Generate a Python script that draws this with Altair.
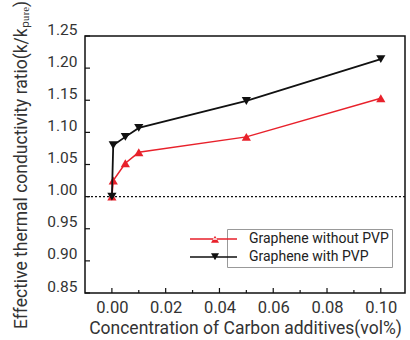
import altair as alt
import pandas as pd

# ---- data ----
concentration = [0.0, 0.0005, 0.005, 0.01, 0.05, 0.1]
without_pvp = [1.0, 1.025, 1.052, 1.069, 1.093, 1.153]
with_pvp = [1.0, 1.08, 1.093, 1.107, 1.149, 1.214]
series_names = ["Graphene without PVP", "Graphene with PVP"]
x_major = [0.0, 0.02, 0.04, 0.06, 0.08, 0.10]
x_minor = [0.01, 0.03, 0.05, 0.07, 0.09]
y_ticks = [0.85, 0.90, 0.95, 1.00, 1.05, 1.10, 1.15, 1.20, 1.25]
baseline = [1.0]

RED = "#e8212b"
BLACK = "#111111"
FONT = "Roboto"
W, H = 320, 257

rows = []
for name, vals in zip(series_names, [without_pvp, with_pvp]):
    for c, v in zip(concentration, vals):
        rows.append({"series": name, "series_label": name, "c": c, "ratio": v})
df = pd.DataFrame(rows)
df_red = df[df.series == series_names[0]]
df_blk = df[df.series == series_names[1]]

xscale = alt.Scale(domain=[-0.01, 0.109], nice=False, zero=False)
yscale = alt.Scale(domain=[0.85, 1.25], nice=False, zero=False)

x_axis = alt.Axis(values=x_major, format=".2f", ticks=False, domain=False, grid=False,
                  labelPadding=6, labelFontSize=16.5, labelColor="#333", labelFont=FONT,
                  labelFlush=False,
                  title="Concentration of Carbon additives(vol%)", titleFontSize=17.5,
                  titleFont=FONT, titleColor="#333", titleFontWeight="normal", titlePadding=4)
y_axis = alt.Axis(values=y_ticks, format=".2f", ticks=False, domain=False, grid=False,
                  labelPadding=8, labelFontSize=15.5, labelColor="#333", labelFont=FONT,
                  labelOffset=-7, labelFlush=False,
                  title="Effective thermal conductivity ratio(k/k\u209a\u1d64\u1d63\u2091)",
                  titleFontSize=17.5, titleFont=FONT, titleColor="#333",
                  titleFontWeight="normal", titlePadding=16)

X = alt.X("c:Q", scale=xscale, axis=x_axis)
Y = alt.Y("ratio:Q", scale=yscale, axis=y_axis)

# dotted reference line at 1.00
ref = alt.Chart(pd.DataFrame({"ratio": baseline})).mark_rule(
    color=BLACK, strokeDash=[2, 2], strokeWidth=1.2).encode(y=Y)

line_red = alt.Chart(df_red).mark_line(color=RED, strokeWidth=1.5).encode(x=X, y=Y)
line_blk = alt.Chart(df_blk).mark_line(color=BLACK, strokeWidth=1.8).encode(x=X, y=Y)
pts_red = alt.Chart(df_red).mark_point(shape="triangle-up", filled=True, color=RED,
                                       size=85, opacity=1).encode(x=X, y=Y)
pts_blk = alt.Chart(df_blk).mark_point(shape="triangle-down", filled=True, color=BLACK,
                                       size=85, opacity=1).encode(x=X, y=Y)

# inside ticks
yt = alt.Chart(pd.DataFrame({"ratio": y_ticks})).mark_rule(color=BLACK, strokeWidth=1.2).encode(
    y=Y, x=alt.value(0), x2=alt.value(5))
xt_major = alt.Chart(pd.DataFrame({"c": x_major})).mark_rule(color=BLACK, strokeWidth=1.2).encode(
    x=X, y=alt.value(H), y2=alt.value(H - 5))
xt_minor = alt.Chart(pd.DataFrame({"c": x_minor})).mark_rule(color=BLACK, strokeWidth=1.2).encode(
    x=X, y=alt.value(H), y2=alt.value(H - 3))

# legend B: box + labels (white, tiny symbols)
leg_box = alt.Legend(orient="none", legendX=142, legendY=193, title=None,
                     labelFontSize=14, labelFont=FONT, labelColor="#222",
                     strokeColor="#999999", fillColor="#ffffff", padding=3,
                     symbolSize=1, symbolFillColor="#ffffff", symbolStrokeColor="#ffffff",
                     labelOffset=5, rowPadding=4)
# legend A: line + marker samples (no box, no labels)
up_path = "M-27.5,-0.4H-4V0.4H-27.5Z M-17,1.9L-13,1.9L-15,-1.6Z"
down_path = "M-27.5,-0.4H-4V0.4H-27.5Z M-17,-1.9L-13,-1.9L-15,1.6Z"
leg_sym = alt.Legend(orient="none", legendX=150, legendY=193, title=None,
                     labelFontSize=14, labelFont=FONT, labelExpr="''",
                     padding=3, symbolSize=16, labelOffset=2, rowPadding=4,
                     symbolStrokeWidth=0, symbolOpacity=1)

legend_box_layer = alt.Chart(df).mark_point(filled=True, opacity=0).encode(
    x=X, y=Y,
    color=alt.Color("series_label:N", sort=series_names,
                    scale=alt.Scale(range=["#ffffff", "#ffffff"]), legend=leg_box),
)
legend_sym_layer = alt.Chart(df).mark_point(filled=True, opacity=0).encode(
    x=X, y=Y,
    fill=alt.Fill("series:N", scale=alt.Scale(domain=series_names, range=[RED, BLACK]), legend=leg_sym),
    shape=alt.Shape("series:N", scale=alt.Scale(domain=series_names, range=[up_path, down_path]), legend=leg_sym),
)

chart = alt.layer(ref, yt, xt_major, xt_minor, line_red, pts_red, line_blk, pts_blk,
                  legend_box_layer, legend_sym_layer).properties(
    width=W, height=H,
    background="white",
    autosize=alt.AutoSizeParams(type="none"),
    padding={"left": 85, "top": 36, "right": 5, "bottom": 47},
).configure_view(stroke=BLACK, strokeWidth=1.5)

chart.save("out.html", embed_options={"renderer": "svg", "actions": False})
